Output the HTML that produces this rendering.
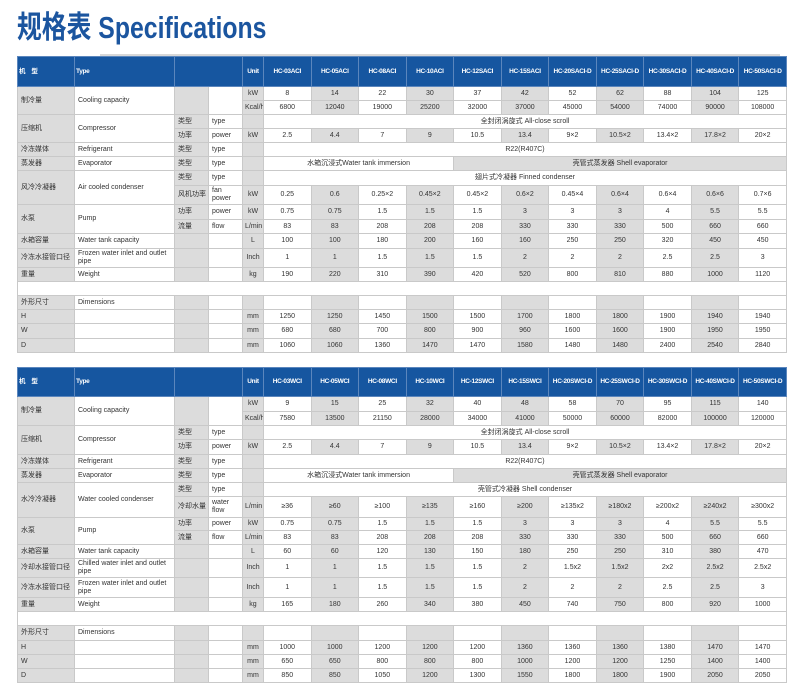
<!DOCTYPE html>
<html><head><meta charset="utf-8"><style>
body{margin:0;width:800px;height:700px;background:#fff;position:relative;overflow:hidden;font-family:"Liberation Sans","Noto Sans CJK SC",sans-serif;}
.title{position:absolute;left:17px;top:2px;font-size:31px;font-weight:bold;color:#1b559f;white-space:nowrap;transform:scaleX(0.8);transform-origin:0 0;font-family:"Liberation Sans","Noto Sans CJK SC",sans-serif;}
.rule{position:absolute;left:100px;top:54px;width:680px;height:2px;background:#d8d8d8;}
table{position:absolute;left:17px;border-collapse:collapse;table-layout:fixed;width:770px;font-size:7px;color:#333;}
td{border:1px solid #c9c9c9;padding:0 2px;text-align:center;overflow:hidden;line-height:8px;white-space:nowrap;}
td.l{text-align:left;padding-left:3px;}
td.wr{white-space:normal;}
col.g{background:#dcdcdc;}
.g{background:#dcdcdc;}
.w{background:#fff;}
tr.h{background:#1656a0;color:#fff;font-weight:bold;}
tr.h td{border-color:#5b86bd;font-size:6.5px;letter-spacing:-0.3px;padding:0 1px;}
</style></head><body>
<div class="title">规格表 Specifications</div>
<div class="rule"></div>

<table style="top:56px">
<colgroup><col class="g" style="width:57px"><col style="width:100px"><col class="g" style="width:34px"><col style="width:34px"><col class="g" style="width:21px"><col><col class="g"><col><col class="g"><col><col class="g"><col><col class="g"><col><col class="g"><col></colgroup>
<tr class="h" style="height:30px"><td class="l">机　型</td><td class="l">Type</td><td colspan="2"></td><td>Unit</td><td>HC-03ACI</td><td>HC-05ACI</td><td>HC-08ACI</td><td>HC-10ACI</td><td>HC-12SACI</td><td>HC-15SACI</td><td>HC-20SACI-D</td><td>HC-25SACI-D</td><td>HC-30SACI-D</td><td>HC-40SACI-D</td><td>HC-50SACI-D</td></tr>
<tr style="height:14px"><td class="l" rowspan="2">制冷量</td><td class="l" rowspan="2">Cooling capacity</td><td rowspan="2"></td><td rowspan="2"></td><td>kW</td><td>8</td><td>14</td><td>22</td><td>30</td><td>37</td><td>42</td><td>52</td><td>62</td><td>88</td><td>104</td><td>125</td></tr>
<tr style="height:14px"><td>Kcal/h</td><td>6800</td><td>12040</td><td>19000</td><td>25200</td><td>32000</td><td>37000</td><td>45000</td><td>54000</td><td>74000</td><td>90000</td><td>108000</td></tr>
<tr style="height:14px"><td class="l" rowspan="2">压缩机</td><td class="l" rowspan="2">Compressor</td><td class="l">类型</td><td class="l">type</td><td></td><td colspan="11" class="w">全封闭涡旋式 All-close scroll</td></tr>
<tr style="height:14px"><td class="l">功率</td><td class="l">power</td><td>kW</td><td>2.5</td><td>4.4</td><td>7</td><td>9</td><td>10.5</td><td>13.4</td><td>9×2</td><td>10.5×2</td><td>13.4×2</td><td>17.8×2</td><td>20×2</td></tr>
<tr style="height:14px"><td class="l">冷冻媒体</td><td class="l">Refrigerant</td><td class="l">类型</td><td class="l">type</td><td></td><td colspan="11" class="w">R22(R407C)</td></tr>
<tr style="height:14px"><td class="l">蒸发器</td><td class="l">Evaporator</td><td class="l">类型</td><td class="l">type</td><td></td><td colspan="4" class="w">水箱沉浸式Water tank immersion</td><td colspan="7" class="g">壳管式蒸发器 Shell evaporator</td></tr>
<tr style="height:15px"><td class="l" rowspan="2">风冷冷凝器</td><td class="l" rowspan="2">Air cooled condenser</td><td class="l">类型</td><td class="l">type</td><td></td><td colspan="11" class="w">翅片式冷凝器 Finned condenser</td></tr>
<tr style="height:19px"><td class="l">风机功率</td><td class="l wr">fan power</td><td>kW</td><td>0.25</td><td>0.6</td><td>0.25×2</td><td>0.45×2</td><td>0.45×2</td><td>0.6×2</td><td>0.45×4</td><td>0.6×4</td><td>0.6×4</td><td>0.6×6</td><td>0.7×6</td></tr>
<tr style="height:15px"><td class="l" rowspan="2">水泵</td><td class="l" rowspan="2">Pump</td><td class="l">功率</td><td class="l">power</td><td>kW</td><td>0.75</td><td>0.75</td><td>1.5</td><td>1.5</td><td>1.5</td><td>3</td><td>3</td><td>3</td><td>4</td><td>5.5</td><td>5.5</td></tr>
<tr style="height:14px"><td class="l">流量</td><td class="l">flow</td><td>L/min</td><td>83</td><td>83</td><td>208</td><td>208</td><td>208</td><td>330</td><td>330</td><td>330</td><td>500</td><td>660</td><td>660</td></tr>
<tr style="height:15px"><td class="l">水箱容量</td><td class="l">Water tank capacity</td><td></td><td></td><td>L</td><td>100</td><td>100</td><td>180</td><td>200</td><td>160</td><td>160</td><td>250</td><td>250</td><td>320</td><td>450</td><td>450</td></tr>
<tr style="height:19px"><td class="l">冷冻水接管口径</td><td class="l wr">Frozen water inlet and outlet pipe</td><td></td><td></td><td>Inch</td><td>1</td><td>1</td><td>1.5</td><td>1.5</td><td>1.5</td><td>2</td><td>2</td><td>2</td><td>2.5</td><td>2.5</td><td>3</td></tr>
<tr style="height:14px"><td class="l">重量</td><td class="l">Weight</td><td></td><td></td><td>kg</td><td>190</td><td>220</td><td>310</td><td>390</td><td>420</td><td>520</td><td>800</td><td>810</td><td>880</td><td>1000</td><td>1120</td></tr>
<tr style="height:14px"><td colspan="16" class="w"></td></tr>
<tr style="height:14px"><td class="l">外形尺寸</td><td class="l">Dimensions</td><td></td><td></td><td></td><td></td><td></td><td></td><td></td><td></td><td></td><td></td><td></td><td></td><td></td><td></td></tr>
<tr style="height:14px"><td class="l">H</td><td></td><td></td><td></td><td>mm</td><td>1250</td><td>1250</td><td>1450</td><td>1500</td><td>1500</td><td>1700</td><td>1800</td><td>1800</td><td>1900</td><td>1940</td><td>1940</td></tr>
<tr style="height:15px"><td class="l">W</td><td></td><td></td><td></td><td>mm</td><td>680</td><td>680</td><td>700</td><td>800</td><td>900</td><td>960</td><td>1600</td><td>1600</td><td>1900</td><td>1950</td><td>1950</td></tr>
<tr style="height:14px"><td class="l">D</td><td></td><td></td><td></td><td>mm</td><td>1060</td><td>1060</td><td>1360</td><td>1470</td><td>1470</td><td>1580</td><td>1480</td><td>1480</td><td>2400</td><td>2540</td><td>2840</td></tr>
</table>

<table style="top:367px">
<colgroup><col class="g" style="width:57px"><col style="width:100px"><col class="g" style="width:34px"><col style="width:34px"><col class="g" style="width:21px"><col><col class="g"><col><col class="g"><col><col class="g"><col><col class="g"><col><col class="g"><col></colgroup>
<tr class="h" style="height:29px"><td class="l">机　型</td><td class="l">Type</td><td colspan="2"></td><td>Unit</td><td>HC-03WCI</td><td>HC-05WCI</td><td>HC-08WCI</td><td>HC-10WCI</td><td>HC-12SWCI</td><td>HC-15SWCI</td><td>HC-20SWCI-D</td><td>HC-25SWCI-D</td><td>HC-30SWCI-D</td><td>HC-40SWCI-D</td><td>HC-50SWCI-D</td></tr>
<tr style="height:15px"><td class="l" rowspan="2">制冷量</td><td class="l" rowspan="2">Cooling capacity</td><td rowspan="2"></td><td rowspan="2"></td><td>kW</td><td>9</td><td>15</td><td>25</td><td>32</td><td>40</td><td>48</td><td>58</td><td>70</td><td>95</td><td>115</td><td>140</td></tr>
<tr style="height:14px"><td>Kcal/h</td><td>7580</td><td>13500</td><td>21150</td><td>28000</td><td>34000</td><td>41000</td><td>50000</td><td>60000</td><td>82000</td><td>100000</td><td>120000</td></tr>
<tr style="height:14px"><td class="l" rowspan="2">压缩机</td><td class="l" rowspan="2">Compressor</td><td class="l">类型</td><td class="l">type</td><td></td><td colspan="11" class="w">全封闭涡旋式 All-close scroll</td></tr>
<tr style="height:15px"><td class="l">功率</td><td class="l">power</td><td>kW</td><td>2.5</td><td>4.4</td><td>7</td><td>9</td><td>10.5</td><td>13.4</td><td>9×2</td><td>10.5×2</td><td>13.4×2</td><td>17.8×2</td><td>20×2</td></tr>
<tr style="height:14px"><td class="l">冷冻媒体</td><td class="l">Refrigerant</td><td class="l">类型</td><td class="l">type</td><td></td><td colspan="11" class="w">R22(R407C)</td></tr>
<tr style="height:14px"><td class="l">蒸发器</td><td class="l">Evaporator</td><td class="l">类型</td><td class="l">type</td><td></td><td colspan="4" class="w">水箱沉浸式Water tank immersion</td><td colspan="7" class="g">壳管式蒸发器 Shell evaporator</td></tr>
<tr style="height:14px"><td class="l" rowspan="2">水冷冷凝器</td><td class="l" rowspan="2">Water cooled condenser</td><td class="l">类型</td><td class="l">type</td><td></td><td colspan="11" class="w">壳管式冷凝器 Shell condenser</td></tr>
<tr style="height:21px"><td class="l">冷却水量</td><td class="l wr">water flow</td><td>L/min</td><td>≥36</td><td>≥60</td><td>≥100</td><td>≥135</td><td>≥160</td><td>≥200</td><td>≥135x2</td><td>≥180x2</td><td>≥200x2</td><td>≥240x2</td><td>≥300x2</td></tr>
<tr style="height:13px"><td class="l" rowspan="2">水泵</td><td class="l" rowspan="2">Pump</td><td class="l">功率</td><td class="l">power</td><td>kW</td><td>0.75</td><td>0.75</td><td>1.5</td><td>1.5</td><td>1.5</td><td>3</td><td>3</td><td>3</td><td>4</td><td>5.5</td><td>5.5</td></tr>
<tr style="height:14px"><td class="l">流量</td><td class="l">flow</td><td>L/min</td><td>83</td><td>83</td><td>208</td><td>208</td><td>208</td><td>330</td><td>330</td><td>330</td><td>500</td><td>660</td><td>660</td></tr>
<tr style="height:14px"><td class="l">水箱容量</td><td class="l">Water tank capacity</td><td></td><td></td><td>L</td><td>60</td><td>60</td><td>120</td><td>130</td><td>150</td><td>180</td><td>250</td><td>250</td><td>310</td><td>380</td><td>470</td></tr>
<tr style="height:19px"><td class="l">冷却水接管口径</td><td class="l wr">Chilled water inlet and outlet pipe</td><td></td><td></td><td>Inch</td><td>1</td><td>1</td><td>1.5</td><td>1.5</td><td>1.5</td><td>2</td><td>1.5x2</td><td>1.5x2</td><td>2x2</td><td>2.5x2</td><td>2.5x2</td></tr>
<tr style="height:20px"><td class="l">冷冻水接管口径</td><td class="l wr">Frozen water inlet and outlet pipe</td><td></td><td></td><td>Inch</td><td>1</td><td>1</td><td>1.5</td><td>1.5</td><td>1.5</td><td>2</td><td>2</td><td>2</td><td>2.5</td><td>2.5</td><td>3</td></tr>
<tr style="height:14px"><td class="l">重量</td><td class="l">Weight</td><td></td><td></td><td>kg</td><td>165</td><td>180</td><td>260</td><td>340</td><td>380</td><td>450</td><td>740</td><td>750</td><td>800</td><td>920</td><td>1000</td></tr>
<tr style="height:14px"><td colspan="16" class="w"></td></tr>
<tr style="height:15px"><td class="l">外形尺寸</td><td class="l">Dimensions</td><td></td><td></td><td></td><td></td><td></td><td></td><td></td><td></td><td></td><td></td><td></td><td></td><td></td><td></td></tr>
<tr style="height:14px"><td class="l">H</td><td></td><td></td><td></td><td>mm</td><td>1000</td><td>1000</td><td>1200</td><td>1200</td><td>1200</td><td>1360</td><td>1360</td><td>1360</td><td>1380</td><td>1470</td><td>1470</td></tr>
<tr style="height:14px"><td class="l">W</td><td></td><td></td><td></td><td>mm</td><td>650</td><td>650</td><td>800</td><td>800</td><td>800</td><td>1000</td><td>1200</td><td>1200</td><td>1250</td><td>1400</td><td>1400</td></tr>
<tr style="height:14px"><td class="l">D</td><td></td><td></td><td></td><td>mm</td><td>850</td><td>850</td><td>1050</td><td>1200</td><td>1300</td><td>1550</td><td>1800</td><td>1800</td><td>1900</td><td>2050</td><td>2050</td></tr>
</table>
</body></html>
